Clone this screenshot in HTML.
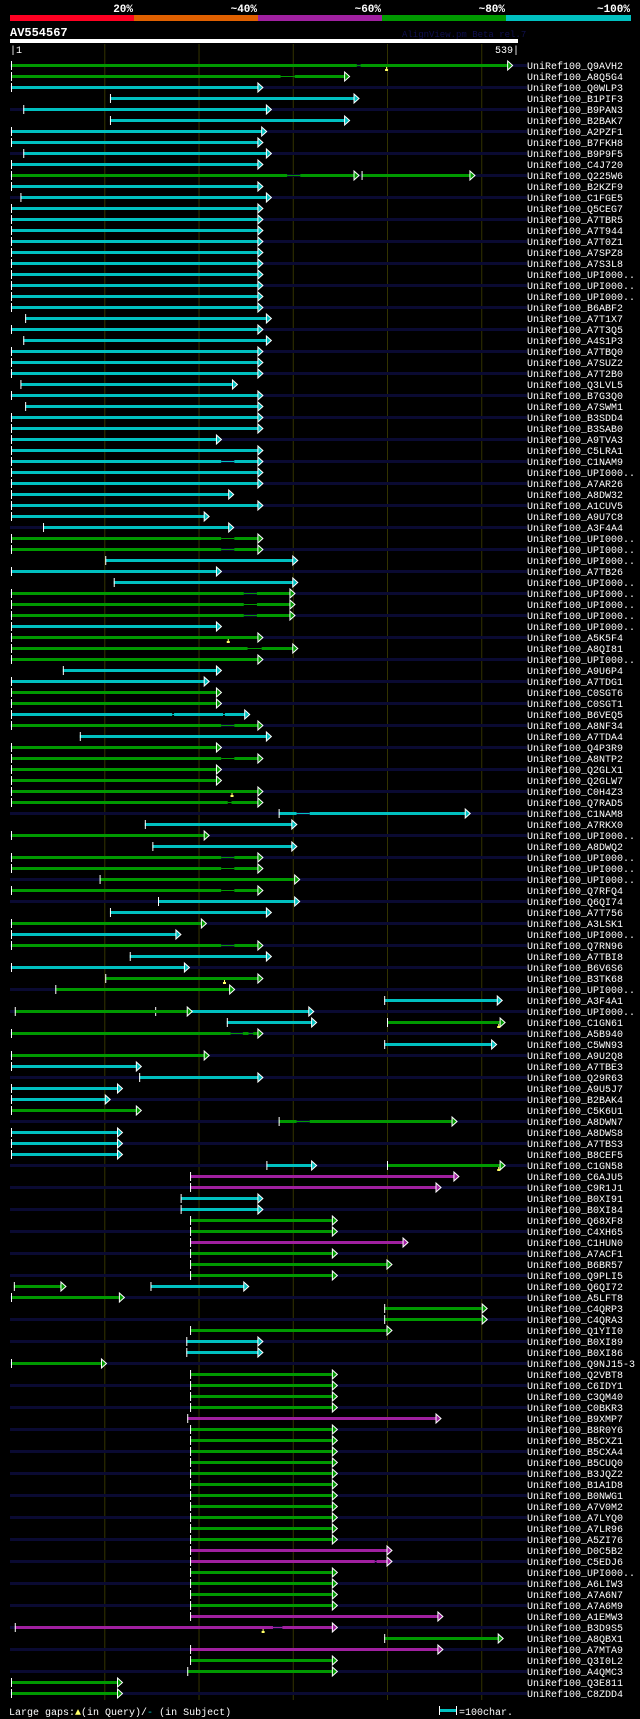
<!DOCTYPE html>
<html><head><meta charset="utf-8">
<style>
html,body{margin:0;padding:0;background:#000;}
svg{display:block;}
text{font-family:"Liberation Mono","DejaVu Sans Mono",monospace;}
</style></head>
<body>
<svg id="chart" width="640" height="1719" viewBox="0 0 640 1719" xmlns="http://www.w3.org/2000/svg">
  <rect x="0" y="0" width="640" height="1719" fill="#000"/>
  <g font-weight="bold" font-size="11" fill="#fff" text-anchor="end">
    <text x="133" y="12">20%</text>
    <text x="257" y="12">~40%</text>
    <text x="381" y="12">~60%</text>
    <text x="505" y="12">~80%</text>
    <text x="630" y="12">~100%</text>
  </g>
  <g>
    <rect x="10" y="15" width="124" height="6" fill="#ff0022"/>
    <rect x="134" y="15" width="124" height="6" fill="#e06000"/>
    <rect x="258" y="15" width="124" height="6" fill="#a020a0"/>
    <rect x="382" y="15" width="124" height="6" fill="#009900"/>
    <rect x="506" y="15" width="125" height="6" fill="#00c0c0"/>
  </g>
  <text x="10" y="36" font-size="12" font-weight="bold" fill="#fff">AV554567</text>
  <text x="402" y="37" font-size="9" fill="#101050">AlignView.pm Beta rel.7</text>
  <rect x="10" y="39" width="508" height="4" fill="#fff"/>
  <text x="10" y="53" font-size="10" fill="#fff">|1</text>
  <text x="519" y="53" font-size="10" fill="#fff" text-anchor="end">539|</text>
  <g id="grid"></g>
  <g id="rows"></g>
  <g font-size="10" fill="#fff">
    <text x="9" y="1715">Large gaps:<tspan fill="#ffff66">&#9650;</tspan>(in Query)/<tspan fill="#00c0c0">-</tspan> (in Subject)</text>
    <rect x="439" y="1709" width="17" height="3" fill="#00c0c0"/>
    <rect x="439" y="1706" width="1" height="9" fill="#fff"/>
    <rect x="456" y="1706" width="1" height="9" fill="#fff"/>
    <text x="459" y="1715">=100char.</text>
  </g>
</svg>
<script>
const names=["Q9AVH2","A8Q5G4","Q0WLP3","B1PIF3","B9PAN3","B2BAK7","A2PZF1","B7FKH8","B9P9F5","C4J720",
"Q225W6","B2KZF9","C1FGE5","Q5CEG7","A7TBR5","A7T944","A7T0Z1","A7SPZ8","A7S3L8","UPI000..",
"UPI000..","UPI000..","B6ABF2","A7T1X7","A7T3Q5","A4S1P3","A7TBQ0","A7SUZ2","A7T2B0","Q3LVL5",
"B7G3Q0","A7SWM1","B3SDD4","B3SAB0","A9TVA3","C5LRA1","C1NAM9","UPI000..","A7AR26","A8DW32",
"A1CUV5","A9U7C8","A3F4A4","UPI000..","UPI000..","UPI000..","A7TB26","UPI000..","UPI000..","UPI000..",
"UPI000..","UPI000..","A5K5F4","A8QI81","UPI000..","A9U6P4","A7TDG1","C0SGT6","C0SGT1","B6VEQ5",
"A8NF34","A7TDA4","Q4P3R9","A8NTP2","Q2GLX1","Q2GLW7","C0H4Z3","Q7RAD5","C1NAM8","A7RKX0",
"UPI000..","A8DWQ2","UPI000..","UPI000..","UPI000..","Q7RFQ4","Q6QI74","A7T756","A3LSK1","UPI000..",
"Q7RN96","A7TBI8","B6V6S6","B3TK68","UPI000..","A3F4A1","UPI000..","C1GN61","A5B940","C5WN93",
"A9U2Q8","A7TBE3","Q29R63","A9U5J7","B2BAK4","C5K6U1","A8DWN7","A8DWS8","A7TBS3","B8CEF5",
"C1GN58","C6AJU5","C9R1J1","B0XI91","B0XI84","Q68XF8","C4XH65","C1HUN0","A7ACF1","B6BR57",
"Q9PLI5","Q6QI72","A5LFT8","C4QRP3","C4QRA3","Q1YII0","B0XI89","B0XI86","Q9NJ15-3","Q2VBT8",
"C6IDY1","C3QM40","C0BKR3","B9XMP7","B8R0Y6","B5CXZ1","B5CXA4","B5CUQ0","B3JQZ2","B1A1D8",
"B0NWG1","A7V0M2","A7LYQ0","A7LR96","A5ZI76","D0C5B2","C5EDJ6","UPI000..","A6LIW3","A7A6N7",
"A7A6M9","A1EMW3","B3D9S5","A8QBX1","A7MTA9","Q3I0L2","A4QMC3","Q3E811","C8ZDD4"];

// per row: list of HSPs, each ["identity class", [start,end], [start,end] ...] in query residues
const C263=[["C",[1,263]]];
const G342=[["G",[191,342]]];
const hsps=[
[["G",[1,368],[372,528]]],[["G",[1,287],[302,355]]],C263,[["C",[106,365]]],[["C",[14,272]]],
[["C",[106,355]]],[["C",[1,267]]],C263,[["C",[14,272]]],C263,
[["G",[1,294],[308,365]],["G",[373,488]]],C263,[["C",[11,272]]],C263,C263,
C263,C263,C263,C263,C263,
C263,C263,C263,[["C",[16,272]]],C263,
[["C",[14,272]]],C263,C263,C263,[["C",[11,236]]],
C263,[["C",[16,263]]],C263,C263,[["C",[1,219]]],
C263,[["C",[1,224],[238,263]]],C263,C263,[["C",[1,232]]],
C263,[["C",[1,206]]],[["C",[35,232]]],[["G",[1,224],[238,263]]],[["G",[1,224],[238,263]]],
[["C",[101,300]]],[["C",[1,219]]],[["C",[110,300]]],[["G",[1,248],[262,297]]],[["G",[1,248],[262,297]]],
[["G",[1,248],[262,297]]],[["C",[1,219]]],[["G",[1,263]]],[["G",[1,252],[267,300]]],[["G",[1,263]]],
[["C",[56,219]]],[["C",[1,206]]],[["G",[1,219]]],[["G",[1,219]]],[["C",[1,172],[174,226],[228,249]]],
[["G",[1,224],[238,263]]],[["C",[74,272]]],[["G",[1,219]]],[["G",[1,224],[238,263]]],[["G",[1,219]]],
[["G",[1,219]]],[["G",[1,263]]],[["G",[1,231],[235,263]]],[["C",[285,304],[318,483]]],[["C",[143,299]]],
[["G",[1,206]]],[["C",[151,299]]],[["G",[1,224],[238,263]]],[["G",[1,224],[238,263]]],[["G",[95,302]]],
[["G",[1,224],[238,263]]],[["C",[157,302]]],[["C",[106,272]]],[["G",[1,203]]],[["C",[1,176]]],
[["G",[1,224],[238,263]]],[["C",[127,272]]],[["C",[1,185]]],[["G",[101,263]]],[["G",[48,233]]],
[["C",[397,517]]],[["C",[154,317]],["G",[5,188]]],[["C",[230,320]],["G",[400,520]]],[["G",[1,234],[247,253],[258,263]]],[["C",[397,511]]],
[["G",[1,206]]],[["C",[1,134]]],[["C",[137,263]]],[["C",[1,114]]],[["C",[1,101]]],
[["G",[1,134]]],[["G",[285,304],[318,469]]],[["C",[1,114]]],[["C",[1,114]]],[["C",[1,114]]],
[["C",[272,320]],["G",[400,520]]],[["M",[191,471]]],[["M",[191,452]]],[["C",[181,263]]],[["C",[181,263]]],
G342,G342,[["M",[191,417]]],G342,[["G",[191,400]]],
G342,[["G",[4,54]],["C",[149,248]]],[["G",[1,116]]],[["G",[397,501]]],[["G",[397,501]]],
[["G",[191,400]]],[["C",[187,263]]],[["C",[187,263]]],[["G",[1,97]]],G342,
G342,G342,G342,[["M",[188,452]]],G342,
G342,G342,G342,G342,G342,
G342,G342,G342,G342,G342,
[["M",[191,400]]],[["M",[191,387],[389,400]]],G342,G342,G342,
G342,[["M",[191,454]]],[["M",[5,279],[289,342]]],[["G",[397,518]]],[["M",[191,454]]],
G342,[["G",[188,342]]],[["G",[1,114]]],[["G",[1,114]]]
];

// large gaps in query: [row, residue]
const gapRows=[0,52,66,83,87,100,142];
const gapPos=[399,231,235,227,518,518,268];
const gridTicks=[100,200,300,400,500];

const colorOf={R:"#ff0022",O:"#e06000",M:"#a020a0",G:"#009900",C:"#00c0c0"};
const NS="http://www.w3.org/2000/svg";
function xs(r){return 11+(r-1)*(507/538);}
function ys(i){return 65.5+11*i;}
function mk(tag,attrs,parent){const e=document.createElementNS(NS,tag);for(const k in attrs)e.setAttribute(k,attrs[k]);parent.appendChild(e);return e;}

const grid=document.getElementById('grid');
gridTicks.forEach(t=>{
  const l=mk('line',{x1:xs(t)+0.5,x2:xs(t)+0.5,y1:44,y2:1700,stroke:'#333300','stroke-width':1},grid);
  
  
});

const rows=document.getElementById('rows');
names.forEach((n,i)=>{
  const y=ys(i);
  const g=mk('g',{},rows);
  
  
  if(i%2===0){
    const s=mk('rect',{x:10,y:y-1.5,width:517,height:3,fill:'#0a0a32'},g);
    
    
  }
  (hsps[i]||[]).forEach((h,hi)=>{
    const col=colorOf[h[0]];
    const segs=h.slice(1);
    const hg=mk('g',{},g);
    
    
    for(let k=0;k<segs.length;k++){
      const a=xs(segs[k][0]),b=xs(segs[k][1]);
      mk('rect',{x:a,y:y-1.5,width:Math.max(1,b-a),height:3,fill:col},hg);
      if(k<segs.length-1){
        const c=xs(segs[k+1][0]);
        mk('rect',{x:b,y:y-0.5,width:Math.max(0,c-b),height:1,fill:col},hg);
      }
    }
    const s0=xs(segs[0][0]);
    mk('rect',{x:s0,y:y-4.5,width:1,height:9,fill:'#fff'},hg);
    const e=xs(segs[segs.length-1][1]);
    mk('polygon',{points:`${e},${y-4.5} ${e+5},${y} ${e},${y+4.5}`,fill:col,stroke:'#fff','stroke-width':1},hg);
  });
  const t=mk('text',{x:527,y:y+3.5,'font-size':10,fill:'#fff'},g);
  t.textContent='UniRef100_'+n;
  
  
});

gapRows.forEach((r,k)=>{
  const x=xs(gapPos[k]),y=ys(r);
  const m=mk('g',{},rows);
  
  
  mk('rect',{x:x,y:y+1.5,width:1,height:2,fill:'#ffff66'},m);
  mk('rect',{x:x-1,y:y+3.5,width:3,height:2,fill:'#ffff66'},m);
});
</script>
</body></html>
